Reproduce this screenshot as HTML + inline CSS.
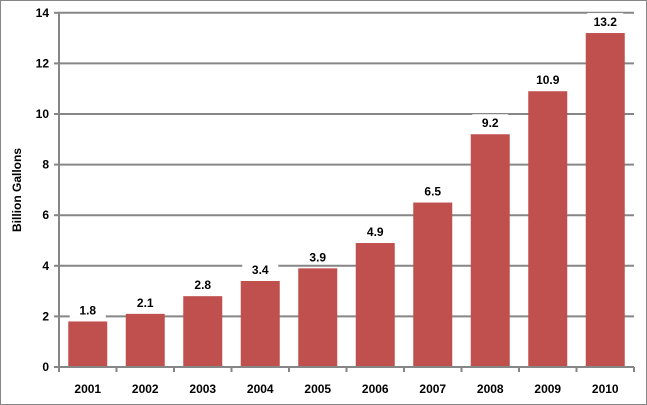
<!DOCTYPE html>
<html><head><meta charset="utf-8"><style>
body{margin:0;background:#fff}
svg{display:block;font-family:"Liberation Sans",Arial,sans-serif;font-weight:bold}
</style></head><body>
<svg width="647" height="405">
<rect x="0.5" y="0.5" width="646" height="404" fill="#fff" stroke="#868686"/>
<g id="g"></g>
</svg>
<script>
const categories=["2001","2002","2003","2004","2005","2006","2007","2008","2009","2010"];
const values=[1.8,2.1,2.8,3.4,3.9,4.9,6.5,9.2,10.9,13.2];
const yTicks=[0,2,4,6,8,10,12,14];
const X0=59,X1=634,Y0=367,YMAX=14,PX=25.3;
const y=v=>Y0-v*PX;
const step=(X1-X0)/categories.length;
const x=i=>X0+step*i;
const g=document.getElementById('g');
const NS='http://www.w3.org/2000/svg';
function mk(t,a,txt){const e=document.createElementNS(NS,t);for(const k in a)e.setAttribute(k,a[k]);if(txt!==undefined)e.textContent=txt;g.appendChild(e);return e;}
yTicks.forEach(t=>{
 if(t>0){const l=mk('line',{x1:X0,x2:X1,y1:y(t),y2:y(t),stroke:'#868686','stroke-width':2});
 
 }
 const tk=mk('line',{x1:X0-5,x2:X0,y1:y(t),y2:y(t),stroke:'#868686','stroke-width':2});
 
 
 const tl=mk('text',{x:X0-10,y:y(t)+4,'text-anchor':'end','font-size':12},t);
 
 
});
categories.forEach((c,i)=>{
 const cx=x(i)+step/2,w=39,v=values[i];
 const b=mk('rect',{x:cx-w/2,y:y(v),width:w,height:v*PX,fill:'#c0504d'});
 
 
 const bg=mk('rect',{x:cx-18,y:y(v)-20,width:36,height:16,fill:'#fff'});
 
 
 const vl=mk('text',{x:cx,y:y(v)-7,'text-anchor':'middle','font-size':12},v.toFixed(1));
 
 
 const tk=mk('line',{x1:x(i+1),x2:x(i+1),y1:Y0,y2:Y0+5,stroke:'#868686','stroke-width':2});
 
 
 const cl=mk('text',{x:cx,y:Y0+26,'text-anchor':'middle','font-size':12},c);
 
 
});
const ax=mk('line',{x1:X0,x2:X0,y1:y(YMAX),y2:Y0+5,stroke:'#868686','stroke-width':2});


const bx=mk('line',{x1:X0-5,x2:X1,y1:Y0,y2:Y0,stroke:'#868686','stroke-width':2});


const yt=mk('text',{x:21,y:190,'text-anchor':'middle','font-size':12,transform:'rotate(-90 21 190)'},'Billion Gallons');


</script>
</body></html>
